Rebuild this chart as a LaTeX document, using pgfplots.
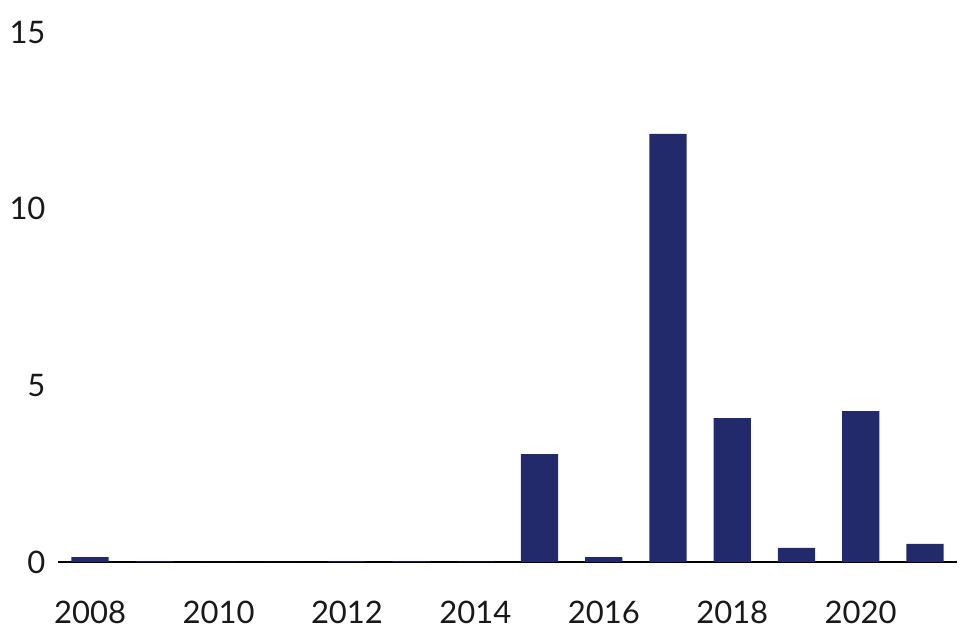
\documentclass[border=0pt]{standalone}
\usepackage{fontspec}
\setmainfont{Lato}
\usepackage{pgfplots}
\pgfplotsset{compat=1.18}
\definecolor{barblue}{HTML}{232A6B}

\begin{document}
\begin{tikzpicture}
\path[use as bounding box] (0,0) rectangle (972pt,632pt);
\begin{axis}[
  at={(58pt,70pt)}, anchor=south west,
  scale only axis,
  width=899pt, height=530pt,
  xmin=2007.5, xmax=2021.5,
  ymin=0, ymax=15,
  xtick={2008,2010,...,2020},
  ytick={0,5,10,15},
  axis x line*=bottom,
  axis y line*=left,
  y axis line style={draw=none},
  x axis line style={line width=1.6pt, -},
  major tick length=0pt,
  tick label style={font=\fontsize{31}{37}\selectfont, text=black!90},
  /pgf/number format/assume math mode=true,
  x tick label style={/pgf/number format/1000 sep={}, yshift=-36pt},
  y tick label style={xshift=-9pt},
  clip=false,
]
\addplot[ybar, bar width=0.58, fill=barblue, draw=none] coordinates {
(2008,0.14)(2009,0.02)(2010,0.0)(2011,0.0)(2012,0.02)(2013,0.02)(2014,0.01)
(2015,3.05)(2016,0.14)(2017,12.12)(2018,4.07)(2019,0.40)(2020,4.27)(2021,0.51)
};
\end{axis}
\end{tikzpicture}
\end{document}
